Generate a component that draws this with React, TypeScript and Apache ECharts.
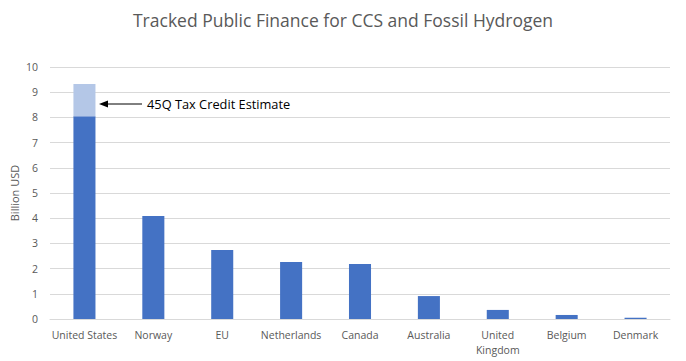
import React, { useEffect, useRef } from "react";
import * as echarts from "echarts";

const categories = ["United States", "Norway", "EU", "Netherlands", "Canada", "Australia", "United\nKingdom", "Belgium", "Denmark"];
const trackedValues = [8.05, 4.09, 2.74, 2.26, 2.18, 0.91, 0.36, 0.16, 0.05];
const taxCreditValues = [1.28, null, null, null, null, null, null, null, null];
const yTicks = { min: 0, max: 10, interval: 1 };

export default function App() {
  const ref = useRef<HTMLDivElement>(null);
  useEffect(() => {
    document.body.style.margin = "0";
    const chart = echarts.init(ref.current!, null, { renderer: "svg" });
    const font = "Open Sans, Noto Sans, sans-serif";
    chart.setOption({
      animation: false,
      backgroundColor: "#ffffff",
      title: {
        text: "Tracked Public Finance for CCS and Fossil Hydrogen",
        left: "center",
        top: 6,
        textStyle: { fontFamily: font, fontSize: 17.5, fontWeight: "normal", color: "#595959" },
      },
      grid: { left: 50, right: 16, top: 67, bottom: 42 },
      xAxis: {
        type: "category",
        data: categories,
        axisLine: { lineStyle: { color: "#d9d9d9" } },
        axisTick: { show: false },
        axisLabel: { color: "#595959", fontFamily: font, fontSize: 10.5, interval: 0, margin: 8, lineHeight: 15 },
      },
      yAxis: {
        type: "value",
        min: yTicks.min,
        max: yTicks.max,
        interval: yTicks.interval,
        name: "Billion USD",
        nameLocation: "middle",
        nameGap: 30,
        nameMoveOverlap: false,
        nameTextStyle: { color: "#595959", fontFamily: font, fontSize: 11 },
        axisLine: { show: false },
        axisTick: { show: false },
        axisLabel: { color: "#595959", fontFamily: font, fontSize: 10.5, margin: 12 },
        splitLine: { lineStyle: { color: "#d9d9d9" } },
      },
      series: [
        {
          type: "bar",
          stack: "total",
          data: trackedValues,
          barWidth: "32%",
          itemStyle: { color: "#4472c4" },
        },
        {
          type: "bar",
          stack: "total",
          data: taxCreditValues,
          barWidth: "32%",
          itemStyle: { color: "#b4c7e7" },
        },
      ],
      graphic: [
        { type: "line", shape: { x1: 106, y1: 104, x2: 142, y2: 104 }, style: { stroke: "#000", lineWidth: 1 } },
        { type: "polygon", shape: { points: [[99, 104], [108, 100.5], [108, 107.5]] }, style: { fill: "#000" } },
        {
          type: "text",
          x: 147,
          y: 104,
          style: { text: "45Q Tax Credit Estimate", fill: "#000", fontFamily: font, fontSize: 12.8, verticalAlign: "middle" },
        },
      ],
    });
    return () => chart.dispose();
  }, []);
  return <div ref={ref} style={{ width: 686, height: 361 }} />;
}
